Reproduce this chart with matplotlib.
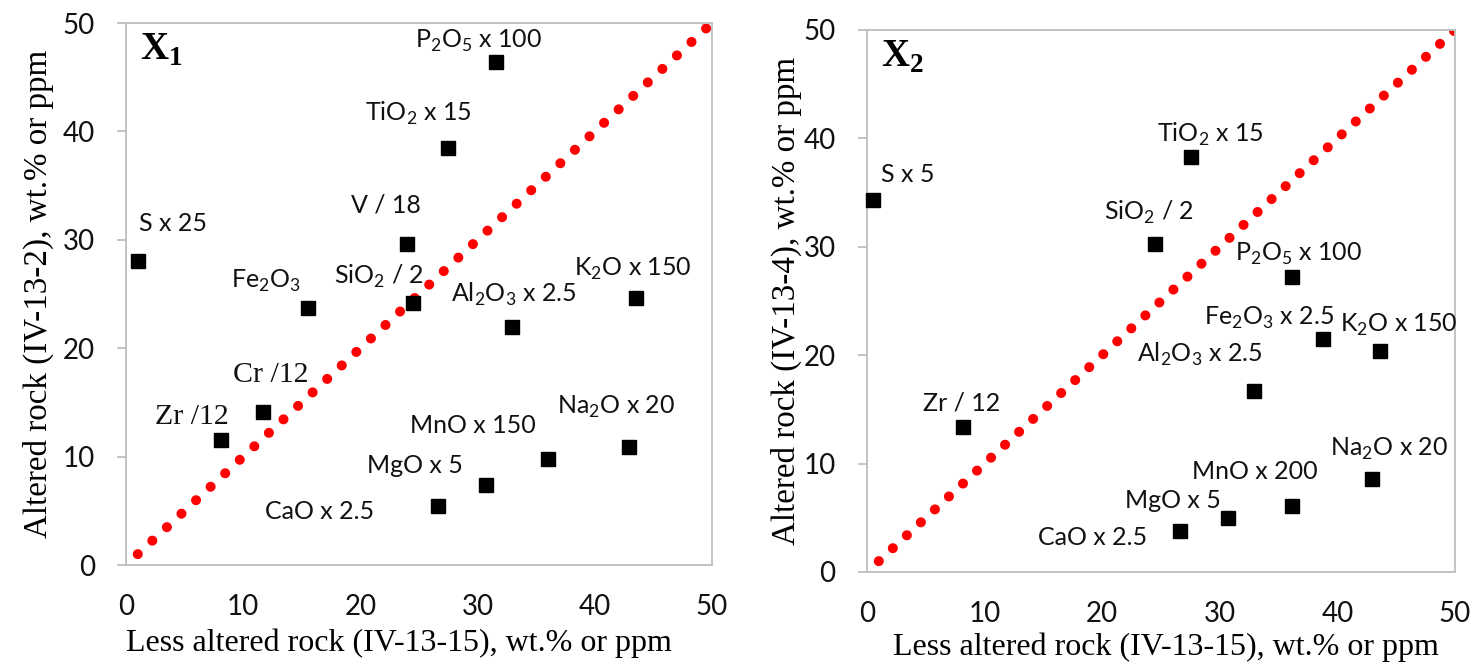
import matplotlib.pyplot as plt
import numpy as np


plt.rcParams['font.family'] = ['Lato', 'DejaVu Sans']


#===========================================================================#
#
# Data : oxides / trace elements, scaled as written in the labels
#
#---------------------------------------------------------------------------#

# X1 : IV-13-2 against IV-13-15
names_x1 = ["S x 25", "Zr /12", "Cr /12", r"Fe$_\mathregular{2}$O$_\mathregular{3}$",
            "V / 18", r"SiO$_\mathregular{2}$ / 2", r"TiO$_\mathregular{2}$ x 15",
            r"P$_\mathregular{2}$O$_\mathregular{5}$ x 100",
            r"Al$_\mathregular{2}$O$_\mathregular{3}$ x 2.5",
            r"K$_\mathregular{2}$O x 150", r"Na$_\mathregular{2}$O x 20",
            "MnO x 150", "MgO x 5", "CaO x 2.5"]
less_x1 = [1.0, 8.1, 11.7, 15.5, 23.95, 24.5, 27.5, 31.6, 32.9, 43.5, 42.9, 36.0, 30.7, 26.6]
alt_x1 = [28.0, 11.5, 14.1, 23.7, 29.6, 24.2, 38.5, 46.4, 22.0, 24.6, 10.9, 9.8, 7.4, 5.4]

# X2 : IV-13-4 against IV-13-15
names_x2 = ["S x 5", "Zr / 12", r"SiO$_\mathregular{2}$ / 2", r"TiO$_\mathregular{2}$ x 15",
            r"P$_\mathregular{2}$O$_\mathregular{5}$ x 100",
            r"Fe$_\mathregular{2}$O$_\mathregular{3}$ x 2.5",
            r"K$_\mathregular{2}$O x 150",
            r"Al$_\mathregular{2}$O$_\mathregular{3}$ x 2.5",
            r"Na$_\mathregular{2}$O x 20", "MnO x 200", "MgO x 5", "CaO x 2.5"]
less_x2 = [0.5, 8.2, 24.5, 27.55, 36.1, 38.75, 43.6, 32.9, 42.9, 36.1, 30.7, 26.6]
alt_x2 = [34.3, 13.35, 30.3, 38.3, 27.2, 21.5, 20.4, 16.7, 8.55, 6.1, 5.0, 3.8]

# 1:1 reference line
iso_line = [1, 50]


#===========================================================================#
#
# Label placement (pixels from the marker : left edge, baseline)
#
#---------------------------------------------------------------------------#

offs_x1 = [(1, 30), (-66, 16), (-30, 30), (-77, 20), (-56, 32), (-79, 19),
           (-83, 27), (-81, 14), (-61, 25), (-62, 23), (-72, 33), (-138, 26),
           (-119, 12), (-173, -13)]
serif_x1 = [False, True, True] + [False]*11

offs_x2 = [(8, 18), (-40, 17), (-51, 24), (-34, 15), (-57, 16), (-119, 14),
           (-40, 19), (-117, 29), (-42, 24), (-100, 27), (-103, 10), (-142, -14)]
serif_x2 = [False]*12


def plot(ax, less, alt, names, offs, serif, tag, ylabel, xlab_pos, ylab_pos,
         dot_gap=1.95):

    # round dots of the 1:1 line (gap in linewidths)
    ax.plot(iso_line, iso_line, color='#FF0000', lw=7.2,
            linestyle=(0, (0.01, dot_gap)), dash_capstyle='round', zorder=2)

    ax.plot(less, alt, 's', color='black', ms=10, zorder=3, clip_on=False)

    for x, y, name, (dx, dy), ser in zip(less, alt, names, offs, serif):
        if ser:
            ax.annotate(name, (x, y), xytext=(dx, dy), textcoords='offset pixels',
                        ha='left', va='baseline', fontsize=21.5,
                        family='Liberation Serif', color='#111111')
        else:
            ax.annotate(name, (x, y), xytext=(dx, dy), textcoords='offset pixels',
                        ha='left', va='baseline', fontsize=18, color='#111111')

    ax.text(0.024, 0.932, tag, transform=ax.transAxes, ha='left', va='baseline',
            fontsize=28, family='Liberation Serif', weight='bold')

    ax.set_xlim(0, 50)
    ax.set_ylim(0, 50)
    ax.set_xticks(np.arange(0, 51, 10))
    ax.set_yticks(np.arange(0, 51, 10))

    for sp in ax.spines.values():
        sp.set_color('#BEBEBE')
        sp.set_linewidth(1.3)

    ax.tick_params(axis='x', length=0, pad=21, labelsize=20, labelcolor='#111111')
    ax.tick_params(axis='y', length=6.5, width=1.3, color='#BEBEBE', pad=16,
                   labelsize=20, labelcolor='#111111')

    ax.set_xlabel("Less altered rock (IV-13-15), wt.% or ppm",
                  family='Liberation Serif', fontsize=23, va='center')
    ax.set_ylabel(ylabel, family='Liberation Serif', fontsize=23.8, va='center')
    ax.xaxis.set_label_coords(*xlab_pos)
    ax.yaxis.set_label_coords(*ylab_pos)


#===========================================================================#
#
# produces the figure
#
#---------------------------------------------------------------------------#

fig = plt.figure(figsize=(14.71, 6.63), dpi=100)

ax1 = fig.add_axes([126/1471, 1-565/663, 586/1471, 542/663])
ax2 = fig.add_axes([867/1471, 1-572/663, 588/1471, 542/663])

plot(ax1, less_x1, alt_x1, names_x1, offs_x1, serif_x1,
     r"X$_\mathregular{1}$", "Altered rock (IV-13-2), wt.% or ppm",
     (0.466, -0.145), (-0.150, 0.5), dot_gap=1.975)

plot(ax2, less_x2, alt_x2, names_x2, offs_x2, serif_x2,
     r"X$_\mathregular{2}$", "Altered rock (IV-13-4), wt.% or ppm",
     (0.509, -0.138), (-0.137, 0.5), dot_gap=1.898)

fig.savefig("out.png", dpi=100, facecolor='white')
